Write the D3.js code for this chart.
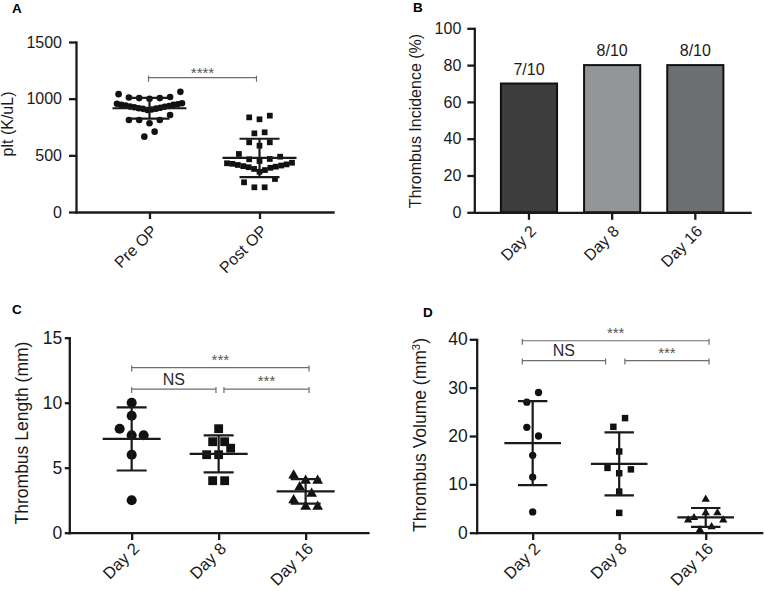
<!DOCTYPE html>
<html>
<head>
<meta charset="utf-8">
<script src="https://cdn.jsdelivr.net/npm/d3@7"></script>
<style>
  html, body { margin: 0; padding: 0; background: #fff; }
  svg { display: block; font-family: "Liberation Sans", Arial, Helvetica, sans-serif; }
</style>
</head>
<body>
<svg id="chart" width="765" height="591"></svg>
<script>
// ---- values ----
var groupsA = ["Pre OP", "Post OP"];
var preOp   = [1040, 1010, 1005, 1000, 1005, 1015, 1060,
               955, 945, 940, 930, 925, 915, 910, 900, 905, 912, 920, 928, 935, 945, 950, 960,
               812, 812, 783, 812, 856,
               665, 709];
var postOp  = [835, 818, 850,
               694, 703,
               615, 585, 615,
               512, 465, 450, 468, 488,
               430, 425, 415, 405, 395, 380, 355, 370, 390, 400, 410, 420, 435,
               262, 218, 218, 291];
var yTicksA = [0, 500, 1000, 1500];

var days          = ["Day 2", "Day 8", "Day 16"];
var incidence     = [70, 80, 80];
var incidenceText = ["7/10", "8/10", "8/10"];
var yTicksB       = [0, 20, 40, 60, 80, 100];

var lengthDay2  = [10, 9, 8, 7.5, 7.5, 6, 2.5];
var lengthDay8  = [8, 7, 7, 6, 6, 6.5, 4, 4];
var lengthDay16 = [4.4, 4.0, 4.0, 3.5, 3.0, 2.5, 2.0, 2.0];
var yTicksC     = [0, 5, 10, 15];

var volumeDay2  = [27, 29, 21.8, 20, 16, 11.5, 4.3];
var volumeDay8  = [21.9, 23.7, 16.8, 13.4, 12.3, 13.1, 8.5, 4.1];
var volumeDay16 = [6.9, 3.1, 4.1, 4.1, 2.6, 0.6, 1.2, 2.6];
var yTicksD     = [0, 10, 20, 30, 40];

// significance brackets: [from group, to group, level, label]
var sigA = [[0, 1, 1185, "****"]];
var sigC = [[0, 2, 12.7, "***"], [0, 1, 11.05, "NS"], [1, 2, 11.05, "***"]];
var sigD = [[0, 2, 39.7, "***"], [0, 1, 35.6, "NS"], [1, 2, 35.6, "***"]];

var ink = "#1a1a1a";
var svg = d3.select("#chart");

// draw both axes of a panel
function drawAxes(x, y, yTicks, o) {
  var ya = svg.append("g")
    .attr("transform", "translate(" + x.range()[0] + ",0)")
    .call(d3.axisLeft(y).tickValues(yTicks).tickFormat(d3.format("d"))
      .tickSize(o.yTick).tickSizeOuter(0).tickPadding(o.yPad));
  var xa = svg.append("g")
    .attr("transform", "translate(0," + y.range()[0] + ")")
    .call(d3.axisBottom(x).tickSize(o.xTick).tickSizeOuter(0));
  [ya, xa].forEach(function(a) {
    a.attr("font-family", null).attr("font-size", o.font);
    a.select(".domain").attr("stroke", ink).attr("stroke-width", 2.3).attr("stroke-linecap", "square");
    a.selectAll(".tick line").attr("stroke", ink).attr("stroke-width", 2.3);
    a.selectAll(".tick text").attr("fill", ink);
  });
  xa.selectAll(".tick text")
    .attr("x", 0).attr("y", 0).attr("dy", 0)
    .attr("font-size", o.xFont || o.font)
    .attr("text-anchor", "end")
    .attr("transform", "translate(8," + (o.xDrop || 20) + ") rotate(-45)");
}

function yTitle(label, tx, ty, size, sup) {
  var t = svg.append("text")
    .attr("transform", "translate(" + tx + "," + ty + ") rotate(-90)")
    .attr("text-anchor", "middle")
    .attr("font-size", size)
    .attr("fill", ink)
    .text(label);
  if (sup) {
    t.append("tspan").attr("baseline-shift", "super").attr("font-size", size * 0.65).text(sup);
    t.append("tspan").text(")");
  }
}

function panelLetter(letter, tx, ty) {
  svg.append("text").attr("x", tx).attr("y", ty)
    .attr("font-size", 13.5).attr("font-weight", "bold").attr("fill", "#000")
    .text(letter);
}

// spread points of one column into rows like a dot plot
function swarm(values, y, rowH, step, maxW) {
  var order = d3.range(values.length).sort(function(a, b) {
    return values[a] - values[b] || a - b;
  });
  var rows = [], cur = null;
  order.forEach(function(i) {
    var py = y(values[i]);
    if (!cur || Math.abs(cur.y0 - py) >= rowH) {
      cur = {y0: py, members: []};
      rows.push(cur);
    }
    cur.members.push(i);
  });
  var dx = [];
  rows.forEach(function(r) {
    r.members.sort(function(a, b) { return a - b; });
    var n = r.members.length;
    var s = (n - 1) * step > maxW ? maxW / (n - 1) : step;
    r.members.forEach(function(i, k) { dx[i] = (k - (n - 1) / 2) * s; });
  });
  return values.map(function(v, i) { return {value: v, dx: dx[i]}; });
}

function drawBrackets(x, y, groups, sig, o) {
  var last = groups.length - 1;
  sig.forEach(function(s) {
    var x1 = x(groups[s[0]]) + (s[0] === 0 ? o.start : o.midR);
    var x2 = x(groups[s[1]]) + (s[1] === last ? o.end : o.midL);
    var ly = y(s[2]);
    svg.append("path")
      .attr("d", "M" + x1 + "," + (ly + 4) + "V" + (ly - 2) + "M" + x1 + "," + ly + "H" + x2 +
                 "M" + x2 + "," + (ly + 4) + "V" + (ly - 2))
      .attr("fill", "none").attr("stroke", "#6d6d6d").attr("stroke-width", 1.2);
    var isStar = s[3].indexOf("*") === 0;
    svg.append("text")
      .attr("x", (x1 + x2) / 2)
      .attr("y", isStar ? ly - o.starLift : ly - 4.5)
      .attr("text-anchor", "middle")
      .attr("font-size", isStar ? 15 : 16)
      .attr("fill", isStar ? "#555" : "#2a2a2a")
      .text(s[3]);
  });
}

function scatterPanel(o) {
  var x = d3.scalePoint().domain(o.groups).range(o.xRange).padding(o.pad);
  var y = d3.scaleLinear().domain(o.yDomain).range(o.yRange);
  drawAxes(x, y, o.yTicks, o.axis);

  o.series.forEach(function(vals, gi) {
    var cx = x(o.groups[gi]);
    var sym = d3.symbol().type(o.symbols[gi]).size(o.sizes[gi]);
    var pts = swarm(vals, y, 10, o.step, o.maxW);
    svg.append("g").selectAll("path").data(pts).join("path")
      .attr("transform", function(d) { return "translate(" + (cx + d.dx) + "," + y(d.value) + ")"; })
      .attr("d", sym)
      .attr("fill", "#111");

    var m = d3.mean(vals), sd = d3.deviation(vals);
    var hi = y(m + sd), lo = y(m - sd), my = y(m);
    svg.append("path")
      .attr("d", "M" + (cx - o.meanHalf) + "," + my + "H" + (cx + o.meanHalf) +
                 "M" + cx + "," + hi + "V" + lo +
                 "M" + (cx - o.capHalf) + "," + hi + "H" + (cx + o.capHalf) +
                 "M" + (cx - o.capHalf) + "," + lo + "H" + (cx + o.capHalf))
      .attr("fill", "none").attr("stroke", "#1a1a1a").attr("stroke-width", 2.2);
  });
  drawBrackets(x, y, o.groups, o.sig, o.br);
}

// ---- A ----
panelLetter("A", 12, 13);
scatterPanel({
  groups: groupsA, series: [preOp, postOp],
  symbols: [d3.symbolCircle, d3.symbolSquare], sizes: [34, 33],
  xRange: [76, 333], pad: 0.668, yDomain: [0, 1500], yRange: [212, 42], yTicks: yTicksA,
  axis: {yTick: 7, yPad: 7, xTick: 7, font: 16},
  step: 10.3, maxW: 65, meanHalf: 37, capHalf: 20,
  sig: sigA, br: {start: -1, end: -3, midL: 0, midR: 0, starLift: 0}
});
yTitle("plt (K/uL)", 13, 124, 16);

// ---- B ----
panelLetter("B", 413, 12);
(function() {
  var x = d3.scaleBand().domain(days).range([474.3, 750]).paddingInner(0.325).paddingOuter(0.32);
  var y = d3.scaleLinear().domain([0, 100]).range([212.3, 28.3]);
  var fills = ["#3d3d3d", "#939598", "#6d6e71"];
  svg.append("g").selectAll("rect").data(incidence).join("rect")
    .attr("x", function(d, i) { return x(days[i]); })
    .attr("y", function(d) { return y(d); })
    .attr("width", x.bandwidth())
    .attr("height", function(d) { return y(0) - y(d); })
    .attr("fill", function(d, i) { return fills[i]; })
    .attr("stroke", "#111").attr("stroke-width", 2);
  svg.append("g").selectAll("text").data(incidence).join("text")
    .attr("x", function(d, i) { return x(days[i]) + x.bandwidth() / 2; })
    .attr("y", function(d) { return y(d) - 9; })
    .attr("text-anchor", "middle").attr("font-size", 16).attr("fill", ink)
    .text(function(d, i) { return incidenceText[i]; });
  drawAxes(x, y, yTicksB, {yTick: 7, yPad: 6, xTick: 7.5, font: 16});
})();
yTitle("Thrombus Incidence (%)", 421, 121, 16);

// ---- C ----
panelLetter("C", 12, 314);
scatterPanel({
  groups: days, series: [lengthDay2, lengthDay8, lengthDay16],
  symbols: [d3.symbolCircle, d3.symbolSquare, d3.symbolTriangle], sizes: [80, 78, 50],
  xRange: [69.3, 368], pad: 0.717, yDomain: [0, 15], yRange: [532.7, 337.7], yTicks: yTicksC,
  axis: {yTick: 4.5, yPad: 2.5, xTick: 7.3, font: 17.5, xFont: 16.5, xDrop: 17},
  step: 12, maxW: 60, meanHalf: 29, capHalf: 15,
  sig: sigC, br: {start: 0, end: 3.4, midL: -2.7, midR: 5.3, starLift: 3}
});
yTitle("Thrombus Length (mm)", 28, 433, 17.5);

// ---- D ----
panelLetter("D", 423, 316.5);
scatterPanel({
  groups: days, series: [volumeDay2, volumeDay8, volumeDay16],
  symbols: [d3.symbolCircle, d3.symbolSquare, d3.symbolTriangle], sizes: [42, 42, 30],
  xRange: [476.7, 761.7], pad: 0.647, yDomain: [0, 40], yRange: [532.7, 339.3], yTicks: yTicksD,
  axis: {yTick: 7, yPad: 2, xTick: 7.3, font: 17.5, xFont: 16.5, xDrop: 17},
  step: 11.7, maxW: 60, meanHalf: 28.3, capHalf: 14.7,
  sig: sigD, br: {start: -10.4, end: 3.3, midL: -13.6, midR: 5.7, starLift: 3}
});
yTitle("Thrombus Volume (mm", 426, 435, 17.5, "3");
</script>
</body>
</html>
